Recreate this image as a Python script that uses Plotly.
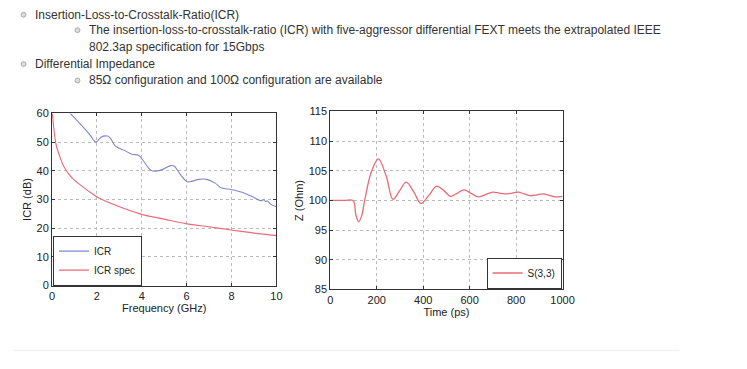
import plotly.graph_objects as go

# ---- data ----
icr_freq = [0.6, 0.8, 1.0, 1.2, 1.45, 1.7, 1.96, 2.18, 2.47, 2.6, 2.83, 3.2, 3.56, 3.85, 4.07, 4.25, 4.43, 4.65,
            4.94, 5.3, 5.45, 5.74, 6.03, 6.25, 6.54, 6.9, 7.27, 7.56, 7.99, 8.43, 8.87, 9.3, 9.45, 9.52, 9.6, 9.74, 10.0]
icr_val = [63.0, 60.2, 58.5, 56.8, 54.7, 52.4, 50.0, 51.7, 52.1, 51.4, 48.6, 47.2, 45.8, 45.4, 43.5, 41.5, 40.1, 39.9,
           40.5, 41.8, 41.6, 38.5, 36.2, 36.4, 37.0, 37.0, 35.7, 34.0, 33.5, 32.6, 31.2, 29.6, 29.9, 29.3, 29.5, 28.4, 27.5]

spec_freq = [0.02, 0.07, 0.145, 0.21, 0.29, 0.4, 0.51, 0.73, 0.95, 1.16, 1.6, 2.03, 2.9, 3.92, 5.09, 5.96,
             6.98, 7.99, 9.01, 10.0]
spec_val = [60.0, 55.5, 50.8, 48.2, 46.3, 43.8, 41.8, 39.0, 37.1, 35.7, 33.1, 30.8, 27.8, 25.0, 23.0, 21.6,
            20.5, 19.4, 18.3, 17.4]

z_time = [0, 60, 98, 110, 122, 135, 148, 175, 207, 240, 270, 298, 327, 360, 390, 425, 458, 488, 517, 546, 576,
          606, 637, 668, 700, 728, 756, 783, 810, 836, 862, 890, 918, 943, 968, 1000]
z_val = [100.0, 100.0, 100.0, 97.6, 96.4, 97.4, 100.0, 104.6, 107.0, 104.2, 100.2, 101.6, 103.1, 101.4, 99.5,
         100.9, 102.4, 101.7, 100.7, 101.2, 101.8, 101.2, 100.6, 101.0, 101.4, 101.25, 101.1, 101.25, 101.4,
         101.1, 100.8, 100.95, 101.1, 100.85, 100.6, 100.7]

left_xticks = [0, 2, 4, 6, 8, 10]
left_yticks = [0, 10, 20, 30, 40, 50, 60]
right_xticks = [0, 200, 400, 600, 800, 1000]
right_yticks = [85, 90, 95, 100, 105, 110, 115]

bullets = [
    ("Insertion-Loss-to-Crosstalk-Ratio(ICR)", 1),
    ("The insertion-loss-to-crosstalk-ratio (ICR) with five-aggressor differential FEXT meets the extrapolated IEEE", 2),
    ("802.3ap specification for 15Gbps", 0),
    ("Differential Impedance", 1),
    ("85Ω configuration and 100Ω configuration are available", 2),
]

W, H = 747, 369
BLUE = "#8288cc"
RED = "#ea6a76"
FONT = "Liberation Sans, Arial, sans-serif"

def px(x):
    return x / W

def py(y):
    return 1 - y / H

fig = go.Figure()
fig.add_trace(go.Scatter(x=icr_freq, y=icr_val, mode="lines", name="ICR", line=dict(color=BLUE, width=1.1),
                         xaxis="x", yaxis="y", legend="legend", line_shape="spline"))
fig.add_trace(go.Scatter(x=spec_freq, y=spec_val, mode="lines", name="ICR spec", line=dict(color=RED, width=1.1),
                         xaxis="x", yaxis="y", legend="legend", line_shape="spline"))
fig.add_trace(go.Scatter(x=z_time, y=z_val, mode="lines", name="S(3,3)", line=dict(color=RED, width=1.3),
                         xaxis="x2", yaxis="y2", legend="legend2", line_shape="spline"))

axis_common = dict(showline=True, linecolor="#333", linewidth=1, mirror="ticks", ticks="inside", ticklen=3,
                   tickcolor="#333", showgrid=True, gridcolor="#bbb", griddash="dot", gridwidth=1,
                   zeroline=False, tickfont=dict(family=FONT, size=11, color="#222"),
                   title_font=dict(family=FONT, size=11, color="#222"))

fig.update_layout(
    width=W, height=H, margin=dict(l=0, r=0, t=0, b=0),
    paper_bgcolor="white", plot_bgcolor="white",
    font=dict(family=FONT, color="#222"),
    xaxis=dict(domain=[px(50), px(279)], range=[0, 10], tickvals=left_xticks, anchor="y",
               title=dict(text="Frequency (GHz)", standoff=1), **axis_common),
    yaxis=dict(domain=[py(289), py(111)], range=[0, 60], tickvals=left_yticks, anchor="x",
               title=dict(text="ICR (dB)", standoff=2), **axis_common),
    xaxis2=dict(domain=[px(334), px(571)], range=[0, 1000], tickvals=right_xticks, anchor="y2",
                title=dict(text="Time (ps)", standoff=1), **axis_common),
    yaxis2=dict(domain=[py(293), py(109)], range=[85, 115], tickvals=right_yticks, anchor="x2",
                title=dict(text="Z (Ohm)", standoff=2), **axis_common),
    legend=dict(x=px(51), y=py(289), xanchor="left", yanchor="bottom", bgcolor="white", bordercolor="#333",
                borderwidth=1, font=dict(family=FONT, size=10, color="#222"), tracegroupgap=0,
                itemwidth=30),
    legend2=dict(x=px(570), y=py(292), xanchor="right", yanchor="bottom", bgcolor="white", bordercolor="#333",
                 borderwidth=1, font=dict(family=FONT, size=10, color="#222"), itemwidth=30),
    showlegend=True,
)

# bullet text
ys = [9, 25, 42, 60, 77]
for (text, level), y in zip(bullets, ys):
    x_text = 34 if level == 1 else 89
    fig.add_annotation(text=text, x=px(x_text - 3), y=py(y), xref="paper", yref="paper", xanchor="left",
                       yanchor="middle", showarrow=False, font=dict(family=FONT, size=12, color="#333"))
    if level:
        bx = 21 if level == 1 else 76
        fig.add_shape(type="circle", xref="paper", yref="paper", x0=px(bx - 2.5), x1=px(bx + 2.5),
                      y0=py(y + 2.5), y1=py(y - 2.5), line=dict(color="#aaa", width=1), fillcolor="#ddd")

# separator line at bottom
fig.add_shape(type="line", xref="paper", yref="paper", x0=px(10), x1=px(690), y0=py(356), y1=py(356),
              line=dict(color="#eee", width=1))

fig.write_html("out.html", config={"displayModeBar": False},
               post_script="document.body.style.margin='0';document.body.style.overflow='hidden';")
